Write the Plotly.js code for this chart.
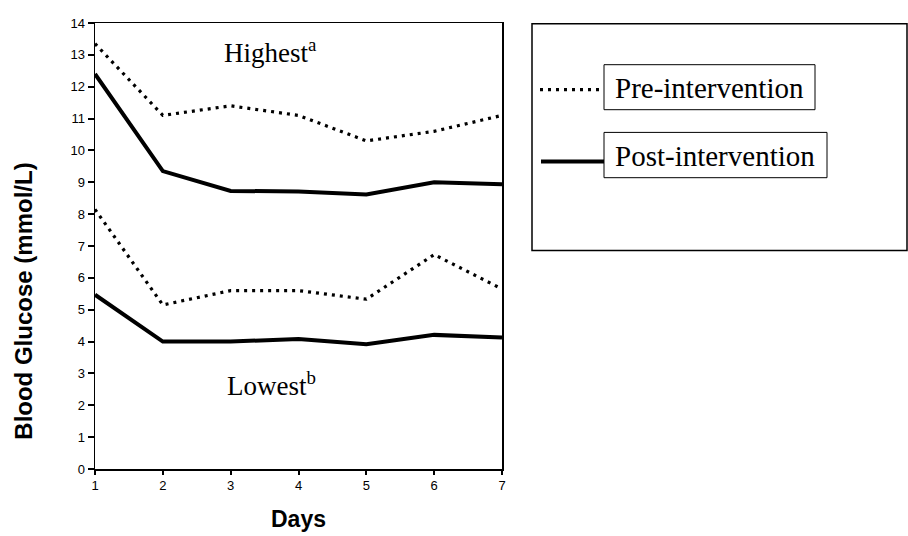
<!DOCTYPE html>
<html>
<head>
<meta charset="utf-8">
<script src="https://cdn.plot.ly/plotly-3.0.1.min.js"></script>
<style>html,body{margin:0;padding:0;background:#fff;}#chart{width:908px;height:536px;}</style>
</head>
<body>
<div id="chart"></div>
<script>
// ---- data ----
var days = [1, 2, 3, 4, 5, 6, 7];
var preHighest  = [13.35, 11.1, 11.4, 11.1, 10.3, 10.6, 11.1];
var postHighest = [12.4, 9.35, 8.73, 8.71, 8.62, 9.0, 8.94];
var preLowest   = [8.15, 5.15, 5.6, 5.6, 5.33, 6.73, 5.65];
var postLowest  = [5.47, 4.0, 4.0, 4.08, 3.92, 4.21, 4.13];
var yTicks = [0,1,2,3,4,5,6,7,8,9,10,11,12,13,14];
var seriesNames = ['Pre-intervention', 'Post-intervention'];
var labelHigh = 'Highest<sup>a</sup>';
var labelLow = 'Lowest<sup>b</sup>';
var xTitle = 'Days';
var yTitle = 'Blood Glucose (mmol/L)';

// ---- layout geometry (pixels) ----
var L = 95, R = 502, T = 23.3, B = 469.3;
function px(x){ return (x - L) / (R - L); }
function py(y){ return (B - y) / (B - T); }

var preLine = {color:'#000', width:3.2, dash:'3px,5px'};
var postLine = {color:'#000', width:4, dash:'solid'};

var traces = [
  {x: days, y: preHighest, mode:'lines', line: preLine, name: seriesNames[0], showlegend:false},
  {x: days, y: postHighest, mode:'lines', line: postLine, name: seriesNames[1], showlegend:false},
  {x: days, y: preLowest, mode:'lines', line: preLine, name: seriesNames[0], showlegend:false},
  {x: days, y: postLowest, mode:'lines', line: postLine, name: seriesNames[1], showlegend:false}
];

var serif = 'Liberation Serif, Times New Roman, serif';
var sans = 'Liberation Sans, Arial, sans-serif';

var layout = {
  width: 908, height: 536,
  margin: {l: L, r: 908 - R, t: T, b: 536 - B, pad: 0},
  paper_bgcolor: '#fff', plot_bgcolor: '#fff',
  showlegend: false,
  xaxis: {
    range: [1, 7], tickvals: days, ticks: 'outside', ticklen: 4, tickwidth: 2, tickcolor: '#000',
    showgrid: false, zeroline: false, showline: true, linecolor: '#000', linewidth: 1.5, mirror: true,
    tickfont: {family: sans, size: 13, color: '#000'},
    title: {text: '<b>' + xTitle + '</b>', font: {family: sans, size: 23, color: '#000'}, standoff: 19}
  },
  yaxis: {
    range: [0, 14], tickvals: yTicks, ticks: 'outside', ticklen: 6, tickwidth: 2, tickcolor: '#000',
    showgrid: false, zeroline: false, showline: true, linecolor: '#000', linewidth: 1.5, mirror: true,
    tickfont: {family: sans, size: 13, color: '#000'}
  },
  shapes: [
    {type:'rect', xref:'paper', yref:'paper', x0: px(532), x1: px(907), y0: py(250.7), y1: py(24), line:{color:'#000', width:1.5}},
    {type:'line', xref:'paper', yref:'paper', x0: px(540), x1: px(604), y0: py(90), y1: py(90), line:{color:'#000', width:3.2, dash:'3px,5px'}},
    {type:'rect', xref:'paper', yref:'paper', x0: px(604), x1: px(815), y0: py(110), y1: py(65), line:{color:'#000', width:1}},
    {type:'line', xref:'paper', yref:'paper', x0: px(541), x1: px(604), y0: py(161.7), y1: py(161.7), line:{color:'#000', width:4}},
    {type:'rect', xref:'paper', yref:'paper', x0: px(604), x1: px(827), y0: py(178), y1: py(132.7), line:{color:'#000', width:1}}
  ],
  annotations: [
    {xref:'paper', yref:'paper', x: px(24), y: py(302), xanchor:'center', yanchor:'middle', showarrow:false, textangle:-90,
     text: '<b>' + yTitle + '</b>', font:{family: sans, size: 24, color:'#000'}},
    {xref:'paper', yref:'paper', x: px(270), y: py(51), xanchor:'center', yanchor:'middle', showarrow:false,
     text: labelHigh, font:{family: serif, size: 27, color:'#000'}},
    {xref:'paper', yref:'paper', x: px(271), y: py(384), xanchor:'center', yanchor:'middle', showarrow:false,
     text: labelLow, font:{family: serif, size: 27, color:'#000'}},
    {xref:'paper', yref:'paper', x: px(613), y: py(88), xanchor:'left', yanchor:'middle', showarrow:false,
     text: seriesNames[0], font:{family: serif, size: 29, color:'#000'}},
    {xref:'paper', yref:'paper', x: px(613), y: py(156), xanchor:'left', yanchor:'middle', showarrow:false,
     text: seriesNames[1], font:{family: serif, size: 29, color:'#000'}}
  ]
};

Plotly.newPlot('chart', traces, layout, {staticPlot: true, displayModeBar: false});
</script>
</body>
</html>
